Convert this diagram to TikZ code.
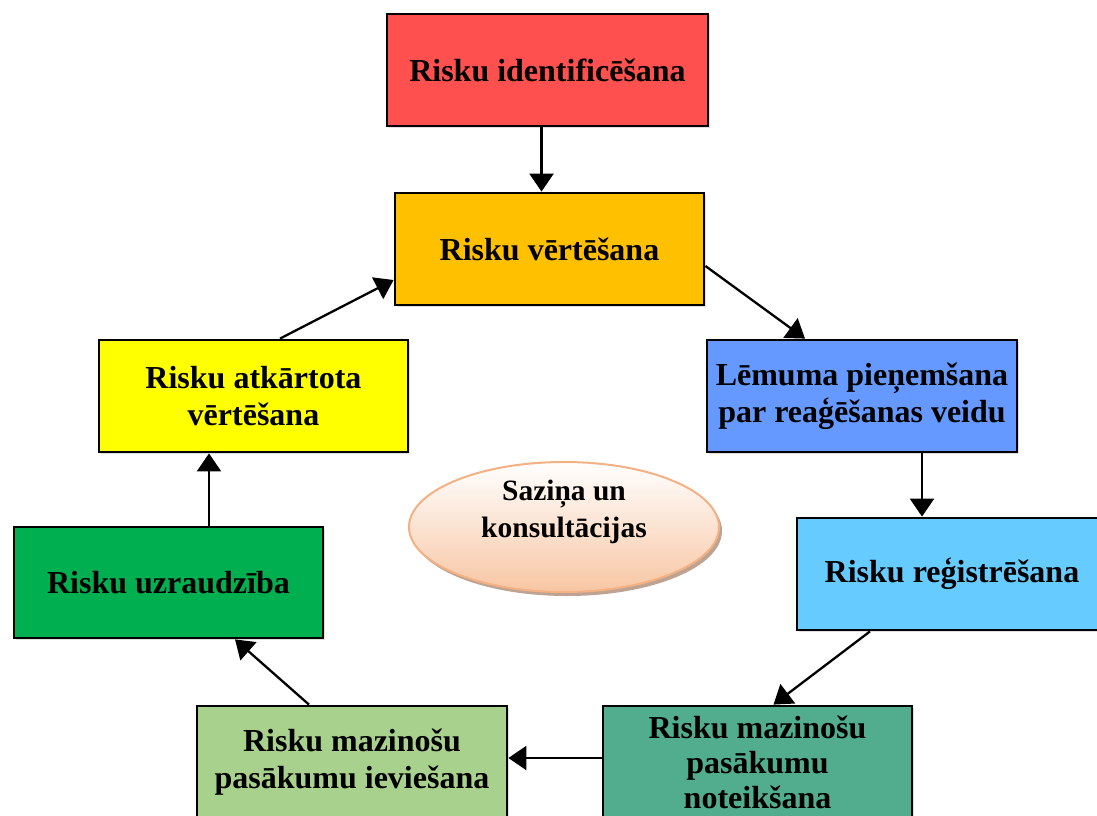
\documentclass[tikz,border=0pt]{standalone}
\usepackage{fontspec}
\setmainfont{Liberation Serif}
\usetikzlibrary{arrows.meta,shapes.geometric,shadows,calc}
\definecolor{cRed}{HTML}{FF5050}
\definecolor{cOrange}{HTML}{FFC000}
\definecolor{cBlue}{HTML}{6699FF}
\definecolor{cLBlue}{HTML}{66CCFF}
\definecolor{cTeal}{HTML}{52AC8E}
\definecolor{cLGreen}{HTML}{A9D18E}
\definecolor{cGreen}{HTML}{00B050}
\definecolor{cYellow}{HTML}{FFFF00}
\definecolor{cPeach}{HTML}{F7C6A3}
\definecolor{cPeachEdge}{HTML}{F4B183}
\definecolor{cShadow}{HTML}{B89A88}
\begin{document}
\begin{tikzpicture}[x=1pt,y=-1pt,
  box/.style={draw=black, line width=2.8pt, minimum width=309pt, minimum height=112pt,
    align=center, inner sep=0pt,
    font=\fontsize{32}{37}\selectfont\bfseries,
    drop shadow={opacity=0.25, shadow xshift=1.5pt, shadow yshift=-1.5pt}},
  arr/.style={line width=2.3pt, -{Triangle[length=18pt,width=24pt]}}
]
\useasboundingbox (0,0) rectangle (1097,816);
\fill[white] (0,0) rectangle (1097,816);

\node[box, fill=cRed, minimum width=321pt] (red) at (547.5,70) {Risku identificēšana};
\node[box, fill=cOrange] (orange) at (549.5,249) {Risku vērtēšana};
\node[box, fill=cBlue, minimum width=310pt] (blue) at (862,396) {Lēmuma pieņemšana\\par reaģēšanas veidu};
\node[box, fill=cLBlue, minimum width=310pt] (lblue) at (952,574) {Risku reģistrēšana};
\node[box, fill=cTeal, font=\fontsize{32}{35}\selectfont\bfseries] (teal) at (757.5,762) {Risku mazinošu\\pasākumu\\noteikšana};
\node[box, fill=cLGreen, minimum width=310pt] (lgreen) at (352,762) {Risku mazinošu\\pasākumu ieviešana};
\node[box, fill=cGreen, minimum height=111pt] (green) at (168.5,582.5) {Risku uzraudzība};
\node[box, fill=cYellow] (yellow) at (253.5,396) {Risku atkārtota\\vērtēšana};

\node[ellipse, draw=cPeachEdge, line width=2pt, minimum width=310pt, minimum height=130pt,
  top color=white, bottom color=cPeach, inner sep=0pt,
  drop shadow={fill=cShadow, opacity=0.9, shadow xshift=3pt, shadow yshift=-4pt}]
  (center) at (564,527) {};
\node[align=center, font=\fontsize{29.5}{37}\selectfont\bfseries, inner sep=0pt]
  (centertext) at (564,512) {Saziņa un\\konsultācijas};

\draw[arr] ([xshift=-6pt]red.south) -- ([xshift=-8pt]orange.north);
\draw[arr] ([yshift=-17pt]orange.east) -- ([xshift=-57pt]blue.north);
\draw[arr] ([xshift=60pt]blue.south) -- ([xshift=-30pt]lblue.north);
\draw[arr] ([xshift=-82pt]lblue.south) -- ([xshift=16pt]teal.north);
\draw[arr] ([yshift=4pt]teal.west) -- ([yshift=4pt]lgreen.east);
\draw[arr] ([xshift=-43pt]lgreen.north) -- ([xshift=66.5pt]green.south);
\draw[arr] ([xshift=40.5pt]green.north) -- ([xshift=-44.5pt]yellow.south);
\draw[arr] ([xshift=26.5pt]yellow.north) -- ([yshift=-31pt]orange.west);
\end{tikzpicture}
\end{document}
